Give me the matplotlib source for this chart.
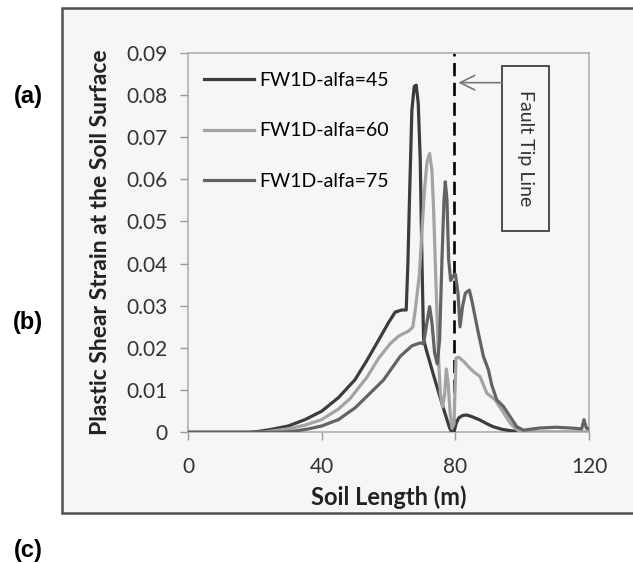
import matplotlib
matplotlib.use("Agg")
import matplotlib.pyplot as plt
from matplotlib.patches import Rectangle

# soil length (m) and plastic shear strain for each fault dip angle
x_45 = [0, 10, 18, 21, 25, 30, 35, 40, 45, 50, 53.5, 57.5, 60, 62, 64, 65.3,
        65.8, 66.3, 67, 67.7, 68.3, 68.9, 69.5, 70, 70.5, 71.5, 73.5, 75,
        76.5, 77.5, 78.3, 79, 79.6, 80.2, 81, 82.2, 83.4, 85, 87.4, 89.5,
        91.4, 94, 96.4, 100, 110, 120]
y_45 = [0, 0, 0, 0.0002, 0.0007, 0.0015, 0.003, 0.005, 0.0082, 0.0125, 0.017,
        0.0225, 0.026, 0.0285, 0.029, 0.029, 0.04, 0.056, 0.0764, 0.082,
        0.0823, 0.078, 0.0645, 0.041, 0.022, 0.019, 0.0135, 0.0095, 0.0055,
        0.003, 0.001, 0, 0, 0.002, 0.0034, 0.004, 0.0041, 0.0037, 0.0029,
        0.002, 0.0013, 0.0007, 0.0004, 0, 0, 0]

x_60 = [0, 10, 22, 25, 30, 35, 40, 45, 48.5, 53.5, 57, 60.5, 63, 66, 67.3, 68,
        69.2, 70.7, 71.5, 72.3, 73, 73.5, 74.3, 75, 75.5, 76.2, 76.8, 77.3,
        77.8, 78.5, 79, 79.6, 80.2, 81, 82.5, 84, 85.4, 87.4, 89.4, 91.9,
        93.9, 96.4, 98.4, 100.4, 110, 120]
y_60 = [0, 0, 0, 0.0003, 0.0008, 0.0017, 0.003, 0.0055, 0.008, 0.013, 0.0175,
        0.021, 0.0228, 0.024, 0.025, 0.029, 0.037, 0.0567, 0.064, 0.0661,
        0.062, 0.0527, 0.033, 0.0171, 0.0093, 0.006, 0.009, 0.015, 0.012,
        0.004, 0.001, 0.002, 0.0176, 0.0178, 0.0168, 0.0155, 0.0144, 0.0132,
        0.0093, 0.0077, 0.0053, 0.0022, 0.0006, 0, 0, 0]

x_75 = [0, 10, 20, 28, 32, 36, 40, 45, 50, 53.5, 58.5, 63.5, 67, 69.5, 70.5,
        71.5, 72.3, 73, 73.8, 74.6, 75.3, 76, 76.6, 77, 77.5, 78, 78.6, 79.3,
        80, 80.8, 81.4, 82.2, 83, 84.2, 85, 86.9, 88.4, 89.9, 90.9, 92.4,
        94.4, 96.4, 98.4, 100.4, 105, 110, 115, 117.8, 118.5, 119.2, 120]
y_75 = [0, 0, 0, 0, 0.0003, 0.0008, 0.0015, 0.003, 0.0058, 0.0085, 0.0124,
        0.018, 0.0205, 0.0212, 0.021, 0.026, 0.0298, 0.026, 0.0188, 0.0162,
        0.022, 0.041, 0.055, 0.0594, 0.055, 0.041, 0.036, 0.037, 0.0375,
        0.033, 0.025, 0.03, 0.033, 0.0337, 0.031, 0.0235, 0.018, 0.0148,
        0.0112, 0.0077, 0.0061, 0.0037, 0.0013, 0.0005, 0.001, 0.0012, 0.001,
        0.0008, 0.003, 0.001, 0.0008]

fault_tip_x = 79.5

x_ticks = [0, 40, 80, 120]
y_ticks = [0, 0.01, 0.02, 0.03, 0.04, 0.05, 0.06, 0.07, 0.08, 0.09]
y_tick_labels = ["0", "0.01", "0.02", "0.03", "0.04", "0.05", "0.06", "0.07",
                 "0.08", "0.09"]

plt.rcParams["font.family"] = ["Lato", "DejaVu Sans"]

fig = plt.figure(figsize=(6.33, 5.63), dpi=100)
fig.patch.set_facecolor("white")

# grey panel with dark border around the chart
W, H = 633.0, 563.0
frame = Rectangle((62 / W, 1 - 513 / H), 1.0, (513 - 8) / H,
                  transform=fig.transFigure, facecolor="#f6f6f6",
                  edgecolor="#505050", linewidth=1.8, zorder=-5)
fig.patches.append(frame)

ax = fig.add_axes([188 / W, 1 - 432.3 / H, (589 - 188) / W, (432.3 - 52.7) / H])
ax.set_zorder(1)
ax.patch.set_visible(False)

ax.axvline(fault_tip_x, ymin=0, ymax=1, color="black", linestyle=(0, (5, 2.5)),
           linewidth=1.9, zorder=1)

ax.plot(x_45, y_45, color="#3c3c3c", linewidth=2.3, label="FW1D-alfa=45",
        solid_joinstyle="round", zorder=3)
ax.plot(x_60, y_60, color="#a3a3a3", linewidth=2.3, label="FW1D-alfa=60",
        solid_joinstyle="round", zorder=3)
ax.plot(x_75, y_75, color="#636363", linewidth=2.3, label="FW1D-alfa=75",
        solid_joinstyle="round", zorder=3)

ax.set_xlim(0, 120)
ax.set_ylim(0, 0.09)
ax.set_xticks(x_ticks)
ax.set_yticks(y_ticks)
ax.set_yticklabels(y_tick_labels)
ax.tick_params(axis="both", direction="out", length=6, width=1.0,
               color="#9a9a9a", labelsize=15, labelcolor="#333333")
ax.tick_params(axis="y", pad=9)
ax.tick_params(axis="x", pad=12)
for side in ["left", "bottom", "top", "right"]:
    ax.spines[side].set_color("#a8a8a8")
    ax.spines[side].set_linewidth(1.1)

ax.set_xlabel("Soil Length (m)", fontsize=17, fontweight="bold",
              color="#222222", labelpad=6)
ax.set_ylabel("Plastic Shear Strain at the Soil Surface", fontsize=16.5,
              fontweight="bold", color="#222222", labelpad=11)

ax.legend(loc="upper left", bbox_to_anchor=(0.0, 0.99), frameon=False,
          fontsize=14, handlelength=2.6, handletextpad=0.25,
          labelspacing=1.72, borderaxespad=0.4)

# callout box pointing at the fault tip
box = Rectangle((93.9, 0.0478), 14.0, 0.0391, facecolor="#f6f6f6",
                edgecolor="#404040", linewidth=1.3, zorder=4)
ax.add_patch(box)
ax.text(100.9, 0.0673, "Fault Tip Line", rotation=270, ha="center",
        va="center", fontsize=14, color="#333333", zorder=5)
ax.annotate("", xy=(fault_tip_x + 1.4, 0.0829), xytext=(93.9, 0.0829),
            arrowprops=dict(arrowstyle="->", color="#777777", lw=1.2,
                            mutation_scale=26, shrinkA=0, shrinkB=0),
            zorder=5)

for label, ypix in [("(a)", 97), ("(b)", 323), ("(c)", 551)]:
    fig.text(28 / W, 1 - ypix / H, label, family=["Liberation Sans", "DejaVu Sans"],
             fontsize=17, fontweight="bold", ha="center", va="center")

fig.savefig("out.png", dpi=100)
